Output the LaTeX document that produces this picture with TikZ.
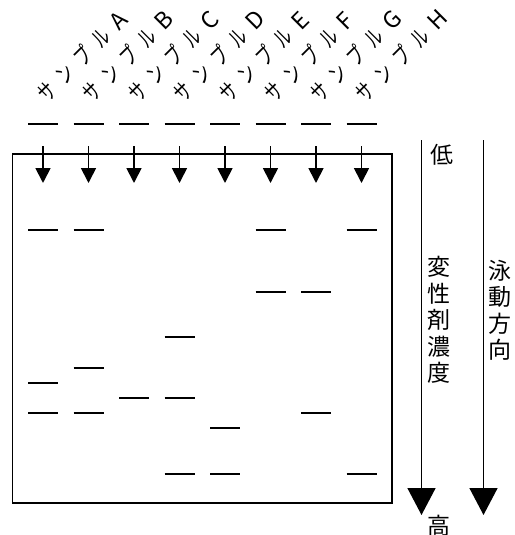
\documentclass[tikz,border=0pt]{standalone}
\usepackage{fontspec}
\setmainfont{Noto Sans CJK JP}
\newfontfamily\labkana[LetterSpace=45,FakeStretch=0.68]{Noto Sans CJK JP}
\usetikzlibrary{arrows.meta}
\begin{document}
\begin{tikzpicture}[x=1pt,y=-1pt,
  band/.style={line width=2pt},
  gelbox/.style={line width=1.2pt},
  laneArrow/.style={line width=1.8pt,-{Triangle[length=15pt,width=15pt]}},
  bigArrow/.style={line width=1.5pt,-{Triangle[length=27pt,width=28pt]}},
  lab/.style={rotate=45,anchor=base west,inner sep=0pt,font=\fontsize{23}{23}\selectfont},
  cjk/.style={inner sep=0pt,font=\fontsize{23}{26.5}\selectfont,align=center}]
\useasboundingbox (0,0) rectangle (514,535);
% gel
\draw[gelbox] (12.5,154) rectangle (392,503);
% lanes
\foreach \i/\L in {1/A,2/B,3/C,4/D,5/E,6/F,7/G,8/H} {
  \pgfmathsetmacro\x{43+45.5*(\i-1)}
  \draw[band] (\x-15,124) -- (\x+15,124);
  \coordinate (s\L) at (\x,146);
  \coordinate (t\L) at (\x,183);
  \draw[laneArrow] (s\L) -- (t\L);
  \node[lab] (lab\L) at (\x+4,104) {{\labkana サンプル}\kern9pt\L};
}
% bands
\foreach \i/\y in {1/230,2/230,6/230,8/230,
                   6/291.7,7/291.7,
                   4/337,
                   2/367.7,
                   1/382.7,
                   3/398,4/398,
                   1/413,2/413,7/413,
                   5/428.3,
                   4/473.7,5/473.7,8/473.7} {
  \pgfmathsetmacro\x{43+45.5*(\i-1)}
  \draw[band] (\x-15,\y) -- (\x+15,\y);
}
% right-hand arrows
\coordinate (c1) at (421.5,140);
\coordinate (c2) at (421.5,515);
\draw[bigArrow] (c1) -- (c2);
\coordinate (m1) at (483.5,140);
\coordinate (m2) at (483.5,515);
\draw[bigArrow] (m1) -- (m2);
% texts
\node[cjk] (low) at (442,155) {低};
\node[cjk,anchor=north] (denat) at (439,256) {変\\性\\剤\\濃\\度};
\node[cjk,anchor=north] (dir) at (500,260) {泳\\動\\方\\向};
\node[cjk,anchor=north] (high) at (439,515) {高};
\end{tikzpicture}
\end{document}
